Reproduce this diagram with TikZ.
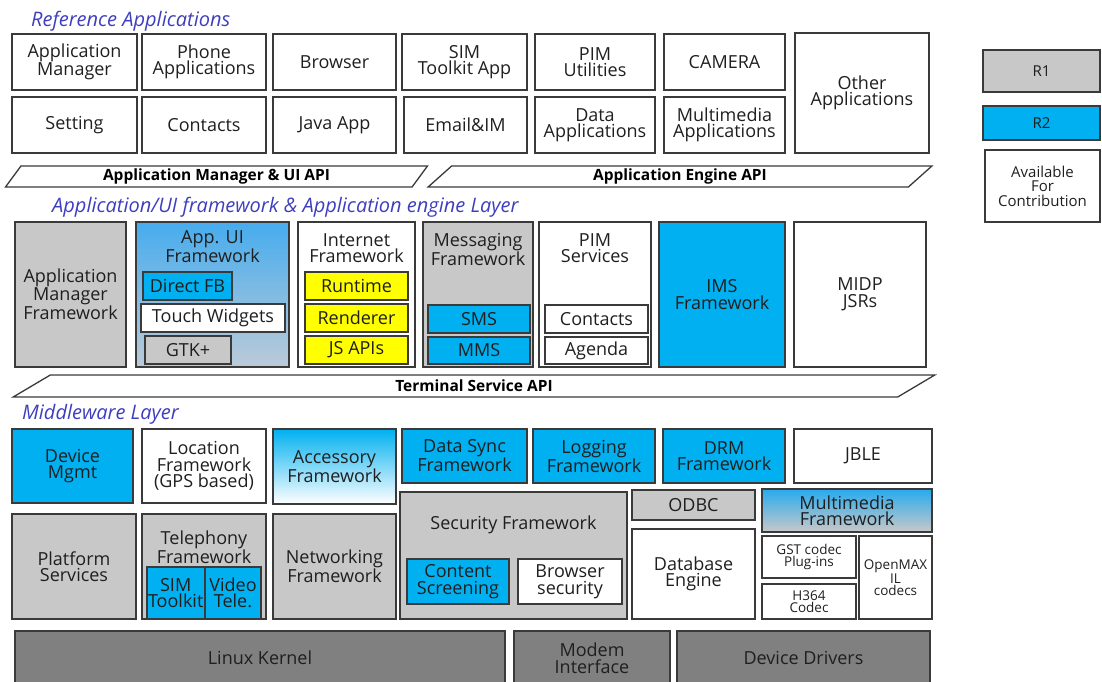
\documentclass[tikz,border=0pt]{standalone}
\usepackage{fontspec}
\setmainfont{Open Sans}
\usepackage{tikz}
\usetikzlibrary{shapes.geometric}
\definecolor{layerblue}{RGB}{62,62,190}
\definecolor{rone}{RGB}{200,200,200}
\definecolor{rtwo}{RGB}{0,176,240}
\definecolor{jsyellow}{RGB}{255,255,0}
\definecolor{kernelgray}{RGB}{128,128,128}
\definecolor{edge}{RGB}{58,58,58}

\begin{document}
\begin{tikzpicture}[x=1pt, y=-1pt,
  box/.style={draw=edge, line width=1.3pt, anchor=north west, inner sep=1pt, outer sep=0pt,
    align=center, text=black!88, font=\fontsize{18}{16.5}\selectfont},
  head/.style={anchor=north, align=center, inner sep=0pt, text=black!88, font=\fontsize{18}{16.5}\selectfont},
  smalltxt/.style={font=\fontsize{13.5}{12.5}\selectfont},
  legendtxt/.style={font=\fontsize{15}{14.5}\selectfont},
  gray box/.style={box, fill=rone},
  cyan box/.style={box, fill=rtwo},
  yellow box/.style={box, fill=jsyellow},
  kernel box/.style={box, fill=kernelgray},
  layer/.style={anchor=west, inner sep=0pt, text=layerblue, font=\fontsize{20}{20}\selectfont\itshape},
  api/.style={trapezium, trapezium left angle=60, trapezium right angle=120, trapezium stretches=true,
    draw=edge, line width=1.3pt, fill=white, inner sep=0pt, outer sep=0pt,
    font=\fontsize{15.5}{15.5}\selectfont\bfseries}
]
\useasboundingbox (0,0) rectangle (1102,682);

% reference applications
\node[layer] (refttl) at (31,21) {Reference Applications};
\node[box, minimum width=125, minimum height=56] (appmgr) at (12,34) {Application\\Manager};
\node[box, minimum width=124, minimum height=56] (phone) at (142,34) {Phone\\Applications};
\node[box, minimum width=123, minimum height=56] (browser) at (273,34) {Browser};
\node[box, minimum width=125, minimum height=56] (simapp) at (402,34) {SIM\\Toolkit App};
\node[box, minimum width=120, minimum height=56] (pimutil) at (535,34) {PIM\\Utilities};
\node[box, minimum width=121, minimum height=56] (camera) at (664,34) {CAMERA};
\node[box, minimum width=125, minimum height=56] (setting) at (12,97) {Setting};
\node[box, minimum width=124, minimum height=56] (contacts) at (142,97) {Contacts};
\node[box, minimum width=123, minimum height=56] (javaapp) at (273,97) {Java App};
\node[box, minimum width=123, minimum height=56] (emailim) at (404,97) {Email\&IM};
\node[box, minimum width=120, minimum height=56] (dataapps) at (535,97) {Data\\Applications};
\node[box, minimum width=121, minimum height=56] (mmapps) at (664,97) {Multimedia\\Applications};
\node[box, minimum width=134, minimum height=120] (otherapps) at (795,33) {Other\\Applications};

% legend
\node[gray box, legendtxt, minimum width=117, minimum height=42] (rone) at (983,50) {R1};
\node[cyan box, legendtxt, minimum width=117, minimum height=34] (rtwo) at (983,106) {R2};
\node[box, legendtxt, minimum width=115, minimum height=72] (avail) at (985,150) {Available\\For\\Contribution};

\node[api, minimum width=423, minimum height=21] (amuiapi) at (216.5,176.5) {Application Manager \& UI API};
\node[api, minimum width=504, minimum height=21] (aeapi) at (680,176.5) {Application Engine API};

% application/ui framework layer
\node[layer] (fwttl) at (52,207) {Application/UI framework \& Application engine Layer};
\node[gray box, minimum width=111, minimum height=145] (amfw) at (15,222) {Application\\Manager\\Framework};
\node[box, top color={rgb,255:red,70;green,172;blue,238}, bottom color={rgb,255:red,188;green,202;blue,216},
  minimum width=153, minimum height=145] (appui) at (136,222) {};
\node[head] (appuittl) at ([yshift=-8pt]appui.north) {App. UI\\Framework};
\node[cyan box, minimum width=89, minimum height=28] (directfb) at (143,272) {Direct FB};
\node[box, fill=white, minimum width=144, minimum height=28] (touch) at (141,304) {Touch Widgets};
\node[gray box, minimum width=86, minimum height=28] (gtk) at (145,336) {GTK+};
\node[box, minimum width=117, minimum height=145] (inetfw) at (298,222) {};
\node[head] (inetttl) at ([yshift=-11pt]inetfw.north) {Internet\\Framework};
\node[yellow box, minimum width=103, minimum height=28] (runtime) at (305,272) {Runtime};
\node[yellow box, minimum width=103, minimum height=28] (renderer) at (305,304) {Renderer};
\node[yellow box, minimum width=103, minimum height=28] (jsapi) at (305,336) {JS APIs};
\node[gray box, minimum width=110, minimum height=145] (msgfw) at (423,222) {};
\node[head] (msgttl) at ([yshift=-11pt]msgfw.north) {Messaging\\Framework};
\node[cyan box, minimum width=102, minimum height=28] (sms) at (428,305) {SMS};
\node[cyan box, minimum width=102, minimum height=27] (mms) at (428,337) {MMS};
\node[box, minimum width=112, minimum height=145] (pimsvc) at (539,222) {};
\node[head] (pimttl) at ([yshift=-11pt]pimsvc.north) {PIM\\Services};
\node[box, minimum width=103, minimum height=28] (pimcontacts) at (545,305) {Contacts};
\node[box, minimum width=103, minimum height=27] (agenda) at (545,337) {Agenda};
\node[cyan box, minimum width=126, minimum height=145] (ims) at (659,222) {IMS\\Framework};
\node[box, minimum width=132, minimum height=145] (midp) at (794,222) {MIDP\\JSRs};

\node[api, minimum width=924, minimum height=22] (tsapi) at (474,386) {Terminal Service API};

% middleware layer
\node[layer] (mwttl) at (22,414) {Middleware Layer};
\node[cyan box, minimum width=121, minimum height=74] (devmgmt) at (12,429) {Device\\Mgmt};
\node[box, minimum width=124, minimum height=74] (location) at (142,429) {Location\\Framework\\(GPS based)};
\node[box, top color=rtwo, bottom color=white, minimum width=123, minimum height=75] (accessory) at (273,429) {Accessory\\Framework};
\node[cyan box, minimum width=125, minimum height=54] (datasync) at (402,429) {Data Sync\\Framework};
\node[cyan box, minimum width=122, minimum height=54] (logging) at (533,429) {Logging\\Framework};
\node[cyan box, minimum width=122, minimum height=54] (drm) at (663,429) {DRM\\Framework};
\node[box, minimum width=138, minimum height=54] (jble) at (794,429) {JBLE};

\node[gray box, minimum width=124, minimum height=105] (platform) at (12,514) {Platform\\Services};
\node[gray box, minimum width=124, minimum height=105] (telephony) at (142,514) {};
\node[head] (telttl) at ([yshift=-17pt]telephony.north) {Telephony\\Framework};
\node[cyan box, minimum width=55, minimum height=52] (simtk) at (147,567) {SIM\\Toolkit};
\node[cyan box, minimum width=56, minimum height=52] (videotele) at (205,567) {Video\\Tele.};
\node[gray box, minimum width=123, minimum height=105] (networking) at (273,514) {Networking\\Framework};
\node[gray box, minimum width=227, minimum height=127] (security) at (400,492) {};
\node[head] (secttl) at ([yshift=-24pt]security.north) {Security Framework};
\node[cyan box, minimum width=102, minimum height=45] (content) at (407,559) {Content\\Screening};
\node[box, fill=white, minimum width=104, minimum height=45] (browsersec) at (518,559) {Browser\\security};
\node[gray box, minimum width=123, minimum height=30] (odbc) at (632,490) {ODBC};
\node[box, minimum width=123, minimum height=90] (dbengine) at (632,529) {Database\\Engine};
\node[box, top color={rgb,255:red,40;green,170;blue,238}, bottom color=rone,
  minimum width=170, minimum height=43] (mmfw) at (762,489) {Multimedia\\Framework};
\node[box, smalltxt, minimum width=94, minimum height=42] (gst) at (762,536) {GST codec\\Plug-ins};
\node[box, smalltxt, minimum width=94, minimum height=35] (hcodec) at (762,584) {H364\\Codec};
\node[box, smalltxt, minimum width=73, minimum height=83] (openmax) at (859,536) {OpenMAX\\IL\\codecs};

% kernel row
\node[kernel box, minimum width=490, minimum height=54] (linux) at (15,631) {Linux Kernel};
\node[kernel box, minimum width=156, minimum height=54] (modem) at (514,631) {Modem\\Interface};
\node[kernel box, minimum width=253, minimum height=54] (drivers) at (677,631) {Device Drivers};
\end{tikzpicture}
\end{document}
